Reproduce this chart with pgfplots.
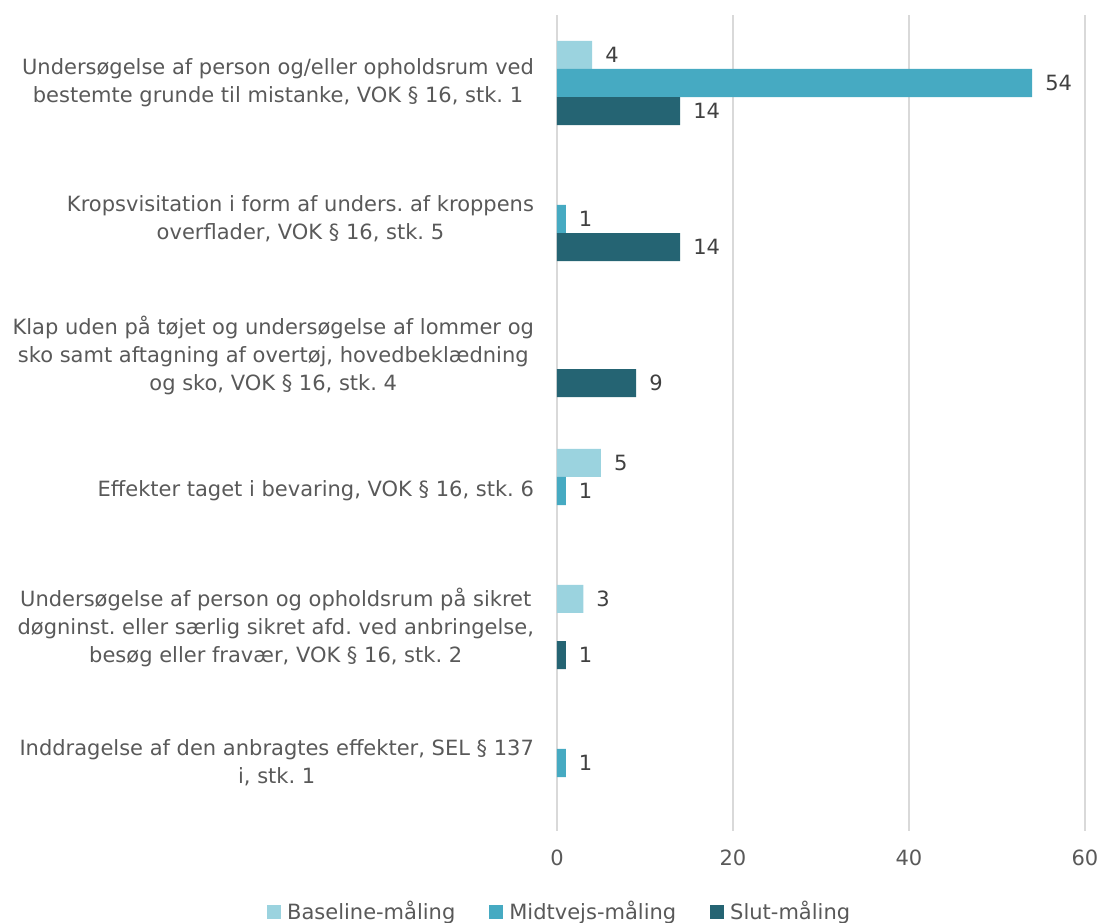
\documentclass[border=0pt]{standalone}
\usepackage{pgfplots}
\pgfplotsset{compat=1.18}
\usepackage{fontspec}
\setmainfont{DejaVu Sans}
\usetikzlibrary{calc}
\definecolor{cB}{HTML}{9BD3DF}
\definecolor{cM}{HTML}{46AAC2}
\definecolor{cS}{HTML}{256473}
\definecolor{txt}{HTML}{595959}
\definecolor{num}{HTML}{404040}
\definecolor{grd}{HTML}{D9D9D9}
\frenchspacing
\begin{document}
\begin{tikzpicture}
\begin{axis}[
  scale only axis,
  width=264pt, height=408pt,
  xbar, bar width=0.206,
  y dir=reverse,
  xmin=0, xmax=60, ymin=-0.5, ymax=5.5,
  xtick={0,20,40,60},
  ytick={0,1,2,3,4,5},
  /pgf/number format/assume math mode=true,
  yticklabels={
    {Undersøgelse af person og/eller opholdsrum ved\\bestemte grunde til mistanke, VOK § 16, stk. 1},
    {Kropsvisitation i form af unders. af kroppens\\overflader, VOK § 16, stk. 5},
    {Klap uden på tøjet og undersøgelse af lommer og\\sko samt aftagning af overtøj, hovedbeklædning\\og sko, VOK § 16, stk. 4},
    {Effekter taget i bevaring, VOK § 16, stk. 6},
    {Undersøgelse af person og opholdsrum på sikret\\døgninst. eller særlig sikret afd. ved anbringelse,\\besøg eller fravær, VOK § 16, stk. 2},
    {Inddragelse af den anbragtes effekter, SEL § 137\\i, stk. 1}},
  yticklabel style={align=center, font=\fontsize{10.5}{14}\selectfont, text=txt, xshift=-8pt},
  xticklabel style={font=\fontsize{10.5}{14}\selectfont, text=txt, yshift=-6pt},
  major tick length=0pt,
  axis line style={draw=none},
  xmajorgrids, grid style={grd, line width=1pt},
  nodes near coords,
  every node near coord/.append style={font=\fontsize{10.5}{14}\selectfont, text=num, xshift=3pt},
  legend columns=3,
  legend style={at={(axis description cs:0.005,-0.0994)}, anchor=center, draw=none,
    font=\fontsize{10.5}{14}\selectfont, text=txt,
    /tikz/every odd column/.append style={column sep=0pt},
    /tikz/every even column/.append style={column sep=16pt},
    nodes={inner sep=1pt}},
  legend image code/.code={\fill[#1] (0pt,-3.5pt) rectangle (7pt,3.5pt); \path (9pt,0pt);},
]
\addplot[fill=cB, draw=none, bar shift=-0.206] coordinates {(4,0) (5,3) (3,4)};
\addplot[fill=cM, draw=none, bar shift=0] coordinates {(54,0) (1,1) (1,3) (1,5)};
\addplot[fill=cS, draw=none, bar shift=0.206] coordinates {(14,0) (14,1) (9,2) (1,4)};
\legend{Baseline-måling, Midtvejs-måling, Slut-måling}
\end{axis}
\pgfresetboundingbox
\path[use as bounding box] ($(current axis.south west)+(-278.5pt,-46pt)$) rectangle ($(current axis.north east)+(8pt,7.5pt)$);
\end{tikzpicture}
\end{document}
